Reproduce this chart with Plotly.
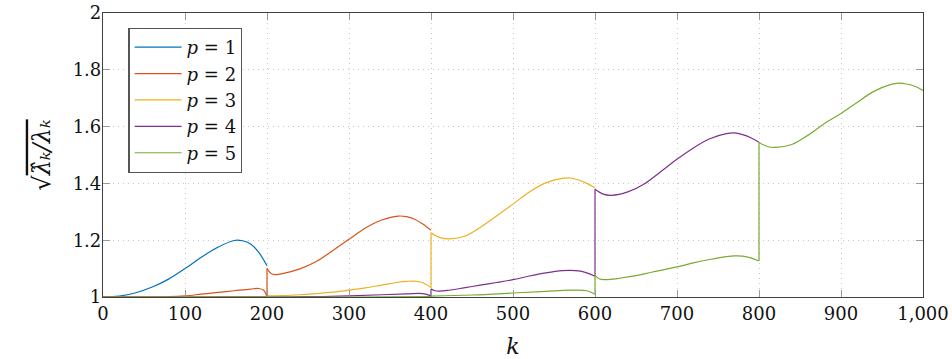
import plotly.graph_objects as go

# ---------------- data ----------------
K_RANGE = [0, 1000]
V_RANGE = [1, 2]
X_TICKS = [0, 100, 200, 300, 400, 500, 600, 700, 800, 900, 1000]
Y_TICKS = [1, 1.2, 1.4, 1.6, 1.8, 2]
Y_TICK_TEXT = ["1", "1.2", "1.4", "1.6", "1.8", "2"]

LABELS = ["<i>p</i> = 1", "<i>p</i> = 2", "<i>p</i> = 3", "<i>p</i> = 4", "<i>p</i> = 5"]
COLORS = ["#0072BD", "#D95319", "#EDB120", "#7E2F8E", "#77AC30"]

# each series: list of branches (k values / ratio values)
P1_K = [[0, 20, 40, 60, 80, 100, 120, 140, 160, 170, 180, 190, 200]]
P1_V = [[1.0, 1.003, 1.015, 1.035, 1.063, 1.100, 1.140, 1.175, 1.199, 1.198, 1.187, 1.157, 1.110]]

P2_K = [[0, 60, 80, 100, 120, 140, 160, 180, 190, 196, 200],
        [200, 205, 210, 220, 240, 260, 280, 300, 320, 340, 360, 370, 380, 390, 400]]
P2_V = [[1.0, 1.0, 1.001, 1.004, 1.010, 1.016, 1.022, 1.028, 1.030, 1.024, 1.002],
        [1.100, 1.083, 1.079, 1.083, 1.099, 1.125, 1.163, 1.203, 1.243, 1.271, 1.285, 1.283, 1.274, 1.257, 1.235]]

P3_K = [[0, 100, 150, 200],
        [200, 220, 240, 260, 280, 300, 320, 340, 360, 370, 380, 390, 400],
        [400, 410, 420, 440, 460, 480, 500, 520, 540, 560, 570, 580, 590, 600]]
P3_V = [[1.0, 1.0, 1.001, 1.001],
        [1.004, 1.005, 1.008, 1.012, 1.017, 1.024, 1.032, 1.042, 1.052, 1.055, 1.056, 1.050, 1.033],
        [1.226, 1.210, 1.205, 1.213, 1.245, 1.285, 1.327, 1.370, 1.402, 1.418, 1.419, 1.412, 1.400, 1.385]]

P4_K = [[0, 100, 200],
        [200, 250, 300, 340, 370, 390, 400],
        [400, 405, 410, 420, 440, 460, 480, 500, 520, 540, 560, 570, 580, 590, 600],
        [600, 610, 620, 640, 660, 680, 700, 720, 740, 760, 770, 780, 790, 800]]
P4_V = [[1.0, 1.0, 1.0],
        [1.0, 1.001, 1.004, 1.008, 1.011, 1.012, 1.004],
        [1.028, 1.022, 1.021, 1.023, 1.032, 1.042, 1.051, 1.061, 1.074, 1.085, 1.093, 1.094, 1.092, 1.085, 1.073],
        [1.379, 1.362, 1.358, 1.370, 1.398, 1.441, 1.485, 1.525, 1.557, 1.575, 1.578, 1.572, 1.561, 1.545]]

P5_K = [[0, 100, 200],
        [200, 300, 400],
        [400, 450, 500, 540, 570, 590, 600],
        [600, 605, 612, 630, 650, 670, 700, 720, 740, 760, 770, 780, 790, 800],
        [800, 810, 820, 840, 860, 880, 900, 920, 940, 960, 970, 980, 990, 1000]]
P5_V = [[1.0, 1.0, 1.0],
        [1.0, 1.0, 1.001],
        [1.003, 1.007, 1.014, 1.020, 1.024, 1.022, 1.010],
        [1.076, 1.064, 1.061, 1.066, 1.075, 1.088, 1.106, 1.120, 1.132, 1.142, 1.145, 1.144, 1.138, 1.127],
        [1.544, 1.530, 1.527, 1.537, 1.570, 1.611, 1.646, 1.686, 1.724, 1.748, 1.753, 1.750, 1.742, 1.727]]

SERIES_K = [P1_K, P2_K, P3_K, P4_K, P5_K]
SERIES_V = [P1_V, P2_V, P3_V, P4_V, P5_V]

FONT = "DejaVu Serif"


def build(kbr, vbr):
    xs, ys = [], []
    for i, (kb, vb) in enumerate(zip(kbr, vbr)):
        if i > 0:
            # vertical jump between branches (straight 2-point segment)
            xs += [None, kbr[i - 1][-1], kb[0], None]
            ys += [None, vbr[i - 1][-1], vb[0], None]
        xs += list(kb)
        ys += list(vb)
    return xs, ys


fig = go.Figure()
for lab, col, kbr, vbr in zip(LABELS, COLORS, SERIES_K, SERIES_V):
    xs, ys = build(kbr, vbr)
    fig.add_trace(go.Scatter(
        x=xs, y=ys, mode="lines", name=lab,
        line=dict(color=col, width=1.2, shape="spline", smoothing=1.0),
        connectgaps=False,
    ))

axis_common = dict(
    showline=True, linecolor="#404040", linewidth=1.2, mirror="ticks",
    ticks="inside", ticklen=7, tickcolor="#9a9a9a", tickwidth=1.2,
    showgrid=True, gridcolor="#c8c8c8", griddash="1px,4px", gridwidth=1,
    zeroline=False, automargin=False,
    tickfont=dict(family=FONT, size=18, color="#111"),
)

fig.update_xaxes(
    range=K_RANGE, tickvals=X_TICKS, tickformat=",",
    title=dict(text="<i>k</i>", font=dict(family=FONT, size=22, color="#111")),
    **axis_common,
)
fig.update_yaxes(
    range=V_RANGE, tickvals=Y_TICKS, ticktext=Y_TICK_TEXT, ticklabelstandoff=-3,
    title=dict(text="√<span style='text-decoration:overline'><i>λ̂ₖ/λₖ</i></span>",
               font=dict(family=FONT, size=24, color="#111")),
    **axis_common,
)

fig.update_layout(
    width=952, height=359,
    margin=dict(l=103, r=29, t=13, b=62),
    paper_bgcolor="white", plot_bgcolor="white",
    showlegend=True,
    legend=dict(
        x=0.031, y=0.948, xanchor="left", yanchor="top",
        bgcolor="white", bordercolor="#555", borderwidth=1.2,
        font=dict(family=FONT, size=18, color="#111"),
        tracegroupgap=0, itemwidth=47,
    ),
)

fig.write_html("out.html")
